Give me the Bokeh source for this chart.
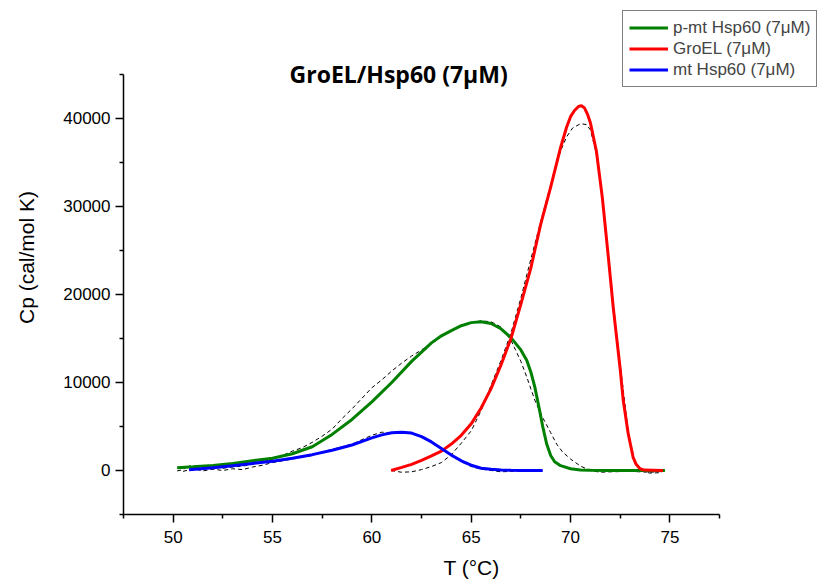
from bokeh.plotting import figure
from bokeh.models import FixedTicker, Label, Legend, LegendItem, Range1d
from bokeh.embed import file_html
from bokeh.resources import INLINE

# ---- data ----
# p-mt Hsp60 fit (green)
t_pmt_fit = [50.2, 51, 52, 53, 54, 55, 56, 57, 58, 59, 60, 61, 62, 63, 63.5, 64, 64.5, 65, 65.5,
             66, 66.5, 67, 67.5, 67.8, 68.0, 68.2, 68.4, 68.6, 68.8, 69.0, 69.2, 69.5, 70, 70.5,
             71, 72, 73, 74, 74.75]
cp_pmt_fit = [300, 420, 580, 800, 1100, 1400, 1900, 2700, 4100, 5800, 7800, 10000, 12400, 14500,
              15300, 15900, 16450, 16800, 16900, 16700, 16100, 15100, 13700, 12500, 11200, 9500,
              7300, 5000, 3000, 1700, 1000, 550, 200, 60, 20, 0, 0, 0, 0]
# GroEL fit (red)
t_groel_fit = [60.97, 61.5, 62, 62.5, 63, 63.5, 64, 64.5, 65, 65.5, 66, 66.5, 67, 67.5, 68, 68.5,
               69, 69.5, 69.8, 70, 70.2, 70.4, 70.55, 70.7, 70.85, 71, 71.3, 71.6, 71.9, 72.15,
               72.3, 72.5, 72.65, 72.9, 73.15, 73.3, 73.5, 73.7, 74.65]
cp_groel_fit = [0, 350, 700, 1150, 1650, 2200, 3000, 4000, 5300, 7100, 9300, 12000, 15000, 18900,
                23000, 28000, 32200, 36700, 39000, 40200, 40900, 41350, 41450, 41200, 40500,
                39500, 36300, 31000, 24300, 18500, 15500, 11500, 8000, 4200, 1500, 700, 200, 50, 0]
# mt Hsp60 fit (blue)
t_mt_fit = [50.8, 52, 53, 54, 55, 56, 57, 58, 59, 60, 60.5, 61, 61.5, 62, 62.5, 63, 63.5, 64,
            64.5, 65, 65.5, 66, 66.5, 67, 67.5, 68, 68.6]
cp_mt_fit = [80, 300, 550, 800, 1050, 1400, 1800, 2300, 2900, 3700, 4050, 4280, 4350, 4250, 3850,
             3250, 2500, 1750, 1100, 600, 260, 130, 60, 30, 10, 0, 0]

# measured traces (black dashed)
t_pmt_data = [50.2, 50.5, 50.8, 51, 51.3, 51.6, 52, 52.5, 53, 53.5, 54, 54.5, 55, 55.5, 56, 56.5,
              57, 57.5, 58, 58.5, 59, 59.5, 60, 60.5, 61, 61.5, 62, 62.5, 63, 63.5, 64, 64.5, 65,
              65.5, 66, 66.5, 67, 67.5, 67.8, 68.2, 68.6, 69, 69.3, 69.6, 70, 70.5, 71, 71.5, 72,
              73, 74, 74.7]
cp_pmt_data = [-50, 100, 600, 300, 500, 200, 400, 250, 400, 500, 700, 1000, 1300, 1700, 2200, 2600,
               3200, 3900, 4700, 5900, 7000, 8200, 9400, 10300, 11300, 12200, 13000, 13700, 14400,
               15200, 15900, 16500, 16800, 17000, 16900, 16300, 14800, 12400, 10600, 8000, 6000,
               4300, 3000, 2100, 1300, 500, 0, -200, -150, -100, -200, -100]
t_groel_data = [60.97, 61.5, 62, 62.5, 63, 63.5, 64, 64.5, 65, 65.5, 66, 66.5, 67, 67.5, 68, 68.5,
                69, 69.5, 69.8, 70.1, 70.5, 70.8, 71, 71.3, 71.6, 71.9, 72.15, 72.5, 72.9, 73.2,
                73.5, 74, 74.5, 74.65]
cp_groel_data = [0, -200, -150, 100, 450, 900, 1800, 3100, 4500, 6800, 9700, 12500, 15600, 19600,
                 24000, 28300, 32500, 36300, 37900, 38900, 39400, 39300, 38700, 36000, 31000, 24500,
                 19000, 12000, 4500, 1200, 0, -300, -250, -100]
t_mt_data = [50.5, 51, 51.5, 52, 52.5, 53, 53.5, 54, 54.5, 55, 55.5, 56, 56.5, 57, 57.5, 58, 58.5,
             59, 59.5, 60, 60.5, 61, 61.5, 62, 62.5, 63, 63.5, 64, 64.5, 65, 65.5, 66, 66.5, 67,
             67.5, 68]
cp_mt_data = [-100, 200, -50, 150, 0, 200, 100, 400, 600, 900, 1100, 1300, 1500, 1700, 2100, 2400,
              2700, 3000, 3500, 4000, 4350, 4300, 4300, 4200, 3900, 3200, 2500, 1700, 1000, 450, 150,
              0, -150, -100, -50, 0]

x_ticks = [50, 55, 60, 65, 70, 75]
x_minor = [47.5, 52.5, 57.5, 62.5, 67.5, 72.5, 77.5]
y_ticks = [0, 10000, 20000, 30000, 40000]
y_minor = [-5000, 5000, 15000, 25000, 35000, 45000]

labels = ["p-mt Hsp60 (7\u03bcM)", "GroEL (7\u03bcM)", "mt Hsp60 (7\u03bcM)"]
colors = ["#008000", "#ff0000", "#0000ff"]

# frame spans to top/right canvas edges; axis bounds limit the drawn axes
p = figure(width=819, height=581, output_backend="svg", toolbar_location=None,
           x_range=Range1d(47.5, 82.53), y_range=Range1d(-5000, 53400),
           min_border_left=123, min_border_right=0, min_border_top=0, min_border_bottom=67)
p.outline_line_color = None
p.grid.visible = False
p.background_fill_color = "white"
p.border_fill_color = "white"

dash = "4 3"
p.line(t_pmt_data, cp_pmt_data, line_color="black", line_width=1, line_dash=dash)
p.line(t_groel_data, cp_groel_data, line_color="black", line_width=1, line_dash=dash)
p.line(t_mt_data, cp_mt_data, line_color="black", line_width=1, line_dash=dash)

r1 = p.line(t_pmt_fit, cp_pmt_fit, line_color=colors[0], line_width=3)
r2 = p.line(t_groel_fit, cp_groel_fit, line_color=colors[1], line_width=3)
r3 = p.line(t_mt_fit, cp_mt_fit, line_color=colors[2], line_width=3)

for ax in (p.xaxis[0], p.yaxis[0]):
    ax.axis_line_width = 1.5
    ax.axis_line_color = "black"
    ax.major_tick_line_width = 1.5
    ax.minor_tick_line_width = 1.5
    ax.major_tick_in = 0
    ax.major_tick_out = 8
    ax.minor_tick_in = 0
    ax.minor_tick_out = 4
    ax.major_label_text_font = "Liberation Sans"
    ax.major_label_text_font_size = "17px"
    ax.major_label_text_color = "black"
    ax.axis_label_text_font = "Liberation Sans"
    ax.axis_label_text_font_size = "21px"
    ax.axis_label_text_font_style = "normal"
    ax.axis_label_text_color = "black"

p.xaxis[0].bounds = (47.5, 77.5)
p.yaxis[0].bounds = (-5000, 45000)
p.xaxis[0].ticker = FixedTicker(ticks=x_ticks, minor_ticks=x_minor)
p.yaxis[0].ticker = FixedTicker(ticks=y_ticks, minor_ticks=y_minor)
p.xaxis[0].axis_label = "T (\u00b0C)"
p.yaxis[0].axis_label = "Cp (cal/mol K)"
p.xaxis[0].major_label_standoff = 8
p.yaxis[0].major_label_standoff = 5
p.xaxis[0].axis_label_standoff = 10
p.yaxis[0].axis_label_standoff = 22

title = Label(x=61.35, y=45000, text="GroEL/Hsp60 (7\u03bcM)", text_font="Open Sans",
              text_font_style="bold", text_font_size="23px", text_align="center",
              text_baseline="alphabetic", text_color="black")
p.add_layout(title)

legend = Legend(items=[LegendItem(label=labels[0], renderers=[r1]),
                       LegendItem(label=labels[1], renderers=[r2]),
                       LegendItem(label=labels[2], renderers=[r3])],
                location=(499, 427), orientation="vertical")
legend.border_line_color = "black"
legend.border_line_width = 1
legend.background_fill_color = "white"
legend.background_fill_alpha = 1
legend.label_text_font = "Liberation Sans"
legend.label_text_font_size = "17px"
legend.glyph_width = 39
legend.glyph_height = 21
legend.label_height = 21
legend.spacing = 0
legend.padding = 6
legend.margin = 0
legend.label_standoff = 5
p.add_layout(legend)

open("out.html", "w").write(file_html(p, INLINE))
